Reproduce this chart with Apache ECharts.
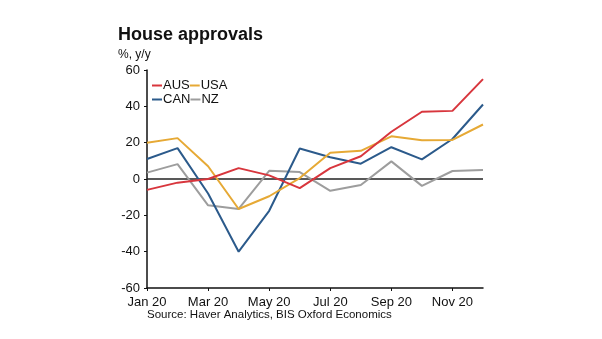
<!DOCTYPE html>
<html>
<head>
<meta charset="utf-8">
<script src="https://cdn.jsdelivr.net/npm/echarts@6/dist/echarts.min.js"></script>
<style>
  html, body { margin: 0; padding: 0; background: #fff; }
  #chart { width: 602px; height: 339px; }
</style>
</head>
<body>
<div id="chart"></div>
<script>
// Monthly house approvals, % y/y, 2020
const months = ['Jan 20', 'Feb 20', 'Mar 20', 'Apr 20', 'May 20', 'Jun 20',
                'Jul 20', 'Aug 20', 'Sep 20', 'Oct 20', 'Nov 20', 'Dec 20'];
const aus = [-6, -2, 0, 6, 2, -5, 6, 12.5, 26, 37, 37.5, 55];
const usa = [20, 22.5, 7, -16.5, -9.5, 0.5, 14.5, 15.5, 23.5, 21.3, 21.5, 30];
const can = [11, 17, -8, -40, -17.5, 16.8, 12, 8.4, 17.5, 10.8, 22, 41];
const nz  = [3.5, 8.2, -14.5, -16.5, 4.5, 3.8, -6.5, -3.3, 9.7, -3.8, 4.4, 5];
const yTicks = { min: -60, max: 60, step: 20 };

const font = '"Liberation Sans", Arial, sans-serif';
const colors = { AUS: '#d8363d', USA: '#e6a935', CAN: '#2b5a8b', NZ: '#9d9d9d' };

function line(name, data, extra) {
  return Object.assign({
    name: name,
    type: 'line',
    data: data,
    symbol: 'none',
    z: 3,
    lineStyle: { width: 2, color: colors[name] },
    itemStyle: { color: colors[name] }
  }, extra || {});
}

const legendBase = {
  left: 152,
  icon: 'rect',
  itemWidth: 10,
  itemHeight: 2,
  itemGap: 0,
  padding: 0,
  selectedMode: false,
  textStyle: { fontFamily: font, fontSize: 13, color: '#111', padding: [0, 0, 0, -4] }
};

const chart = echarts.init(document.getElementById('chart'));
chart.setOption({
  animation: false,
  backgroundColor: '#fff',
  textStyle: { fontFamily: font },
  title: [
    { text: 'House approvals', left: 113, top: 21,
      textStyle: { fontFamily: font, fontSize: 18, fontWeight: 'bold', color: '#111' } },
    { text: '%, y/y', left: 113, top: 44,
      textStyle: { fontFamily: font, fontSize: 12, fontWeight: 'normal', color: '#111' } },
    { text: 'Source: Haver Analytics, BIS Oxford Economics', left: 142, top: 304,
      textStyle: { fontFamily: font, fontSize: 11.5, fontWeight: 'normal', color: '#111' } }
  ],
  legend: [
    Object.assign({ top: 79, data: ['AUS', 'USA'] }, legendBase),
    Object.assign({ top: 93, data: ['CAN', 'NZ'] }, legendBase)
  ],
  grid: { left: 147, right: 119, top: 70, bottom: 51, containLabel: false },
  xAxis: {
    type: 'category',
    data: months,
    boundaryGap: false,
    axisLine: { onZero: false, lineStyle: { color: '#111', width: 1.5 } },
    axisTick: { interval: 1, length: 3, lineStyle: { color: '#111' } },
    axisLabel: { interval: 1, margin: 8, fontFamily: font, fontSize: 13, color: '#111' },
    splitLine: { show: false }
  },
  yAxis: {
    type: 'value',
    min: yTicks.min,
    max: yTicks.max,
    interval: yTicks.step,
    axisLine: { show: true, lineStyle: { color: '#111', width: 1.5 } },
    axisTick: { show: true, length: 3, lineStyle: { color: '#111' } },
    axisLabel: { margin: 7, fontFamily: font, fontSize: 13, color: '#111' },
    splitLine: { show: false }
  },
  series: [
    line('NZ', nz, {
      markLine: {
        silent: true,
        symbol: 'none',
        label: { show: false },
        lineStyle: { color: '#222', width: 1.5, type: 'solid' },
        data: [{ yAxis: 0 }],
        z: 2
      }
    }),
    line('CAN', can),
    line('USA', usa),
    line('AUS', aus)
  ]
});
</script>
</body>
</html>
